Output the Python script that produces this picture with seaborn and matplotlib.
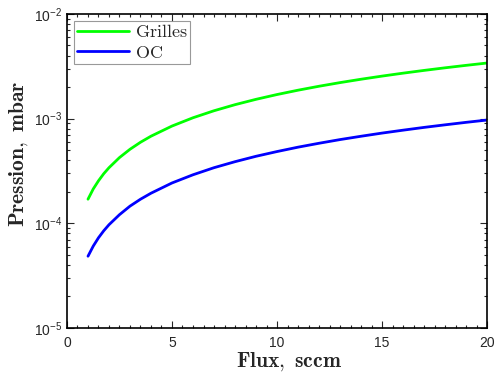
import pandas as pd
import numpy as np
import matplotlib
matplotlib.use('Agg')
import matplotlib.pyplot as plt
import seaborn as sns
from matplotlib.ticker import MultipleLocator, LogLocator

flux = [1, 1.25, 1.5, 1.75, 2, 2.5, 3, 3.5, 4, 5, 6, 7, 8, 9, 10,
        11, 12, 13, 14, 15, 16, 17, 18, 19, 20]
grilles = [1.70e-4, 2.13e-4, 2.55e-4, 2.98e-4, 3.40e-4, 4.25e-4, 5.10e-4, 5.95e-4, 6.80e-4,
           8.50e-4, 1.02e-3, 1.19e-3, 1.36e-3, 1.53e-3, 1.70e-3, 1.87e-3, 2.04e-3,
           2.21e-3, 2.38e-3, 2.55e-3, 2.72e-3, 2.89e-3, 3.06e-3, 3.23e-3, 3.40e-3]
oc = [4.85e-5, 6.06e-5, 7.28e-5, 8.49e-5, 9.70e-5, 1.21e-4, 1.46e-4, 1.70e-4, 1.94e-4,
      2.43e-4, 2.91e-4, 3.40e-4, 3.88e-4, 4.37e-4, 4.85e-4, 5.34e-4, 5.82e-4,
      6.31e-4, 6.79e-4, 7.28e-4, 7.76e-4, 8.25e-4, 8.73e-4, 9.22e-4, 9.70e-4]
series = ['Grilles', 'OC']
colors = ['#00ff00', '#0000ff']

df = pd.concat([
    pd.DataFrame({'flux': flux, 'p': grilles, 'serie': r'$\mathrm{%s}$' % series[0]}),
    pd.DataFrame({'flux': flux, 'p': oc, 'serie': r'$\mathrm{%s}$' % series[1]}),
])

sns.set_style('ticks')
plt.rcParams['font.family'] = ['Liberation Sans', 'DejaVu Sans']
plt.rcParams['mathtext.fontset'] = 'cm'
plt.rcParams['mathtext.default'] = 'regular'

fig = plt.figure(figsize=(4.97, 3.74), dpi=100)
ax = fig.add_axes([0.1348, 0.123, 0.8451, 0.8396])

sns.lineplot(data=df, x='flux', y='p', hue='serie', palette=colors, linewidth=2, ax=ax)

ax.set_yscale('log')
ax.set_xlim(0, 20)
ax.set_ylim(1e-5, 1e-2)
ax.xaxis.set_major_locator(MultipleLocator(5))
ax.xaxis.set_minor_locator(MultipleLocator(0.5))
ax.yaxis.set_major_locator(LogLocator(base=10))
ax.yaxis.set_minor_locator(LogLocator(base=10, subs=np.arange(2, 10)))
ax.tick_params(which='both', direction='in', top=True, right=True, labelsize=10, width=0.8)
ax.tick_params(which='major', length=5)
ax.tick_params(which='minor', length=2.5)
ax.tick_params(axis='x', pad=6)
for s in ax.spines.values():
    s.set_linewidth(1.2)
    s.set_color('black')

ax.set_xlabel(r'$\mathbf{Flux,}$ $\mathbf{sccm}$', fontsize=15.5)
ax.set_ylabel(r'$\mathbf{Pression,}$ $\mathbf{mbar}$', fontsize=15.5)
ax.xaxis.set_label_coords(0.528, -0.072)
ax.yaxis.set_label_coords(-0.088, 0.555)

leg = ax.legend(loc='upper left', fontsize=13, frameon=True, fancybox=False,
                handlelength=2.9, borderaxespad=0.4, borderpad=0.15, labelspacing=0.2,
                handletextpad=0.3)
leg.get_frame().set_edgecolor('#808080')
leg.get_frame().set_linewidth(0.8)

fig.savefig('out.png', dpi=100)
